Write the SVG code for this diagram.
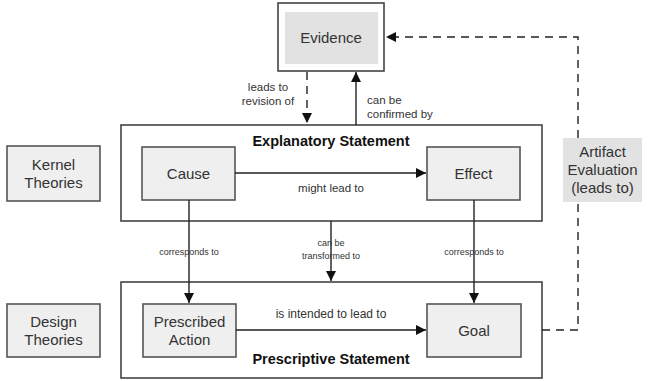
<svg xmlns="http://www.w3.org/2000/svg" width="649" height="381" viewBox="0 0 649 381">
  <defs>
    <marker id="arr" viewBox="0 0 10 10" refX="10" refY="5" markerWidth="10" markerHeight="10" markerUnits="userSpaceOnUse" orient="auto">
      <path d="M0,0 L10,5 L0,10 z" fill="#111"/>
    </marker>
    <style>
      .frame { fill: #fff; stroke: #444; stroke-width: 1.6; }
      .node { fill: #efefef; stroke: #555; stroke-width: 1.6; }
      .shade { fill: #e2e2e2; }
      .t { font-family: "Liberation Sans", Arial, sans-serif; fill: #333; text-anchor: middle; }
      .big { font-size: 15px; }
      .bold { font-size: 14.5px; font-weight: bold; fill: #111; }
      .lbl { font-size: 11.5px; }
      .sm { font-size: 9px; }
      .ln { fill: none; stroke: #222; stroke-width: 1.4; }
      .dash { stroke-dasharray: 8 6; }
    </style>
  </defs>

  <!-- Evidence -->
  <g id="evidence">
    <rect class="frame" x="278" y="3" width="106" height="68"/>
    <rect class="shade" x="285" y="12" width="93" height="52"/>
    <text class="t big" x="331" y="43">Evidence</text>
  </g>

  <!-- Explanatory statement container -->
  <g id="explanatory">
    <rect class="frame" x="121" y="125" width="421" height="96"/>
    <text class="t bold" x="331" y="146">Explanatory Statement</text>
  </g>

  <!-- Prescriptive statement container -->
  <g id="prescriptive">
    <rect class="frame" x="121" y="282" width="421" height="96"/>
    <text class="t bold" x="331" y="364">Prescriptive Statement</text>
  </g>

  <g id="kernel">
    <rect class="node" x="7" y="146" width="93" height="55"/>
    <text class="t big" x="53.5" y="170">Kernel</text>
    <text class="t big" x="53.5" y="188">Theories</text>
  </g>

  <g id="design">
    <rect class="node" x="7" y="304" width="93" height="53"/>
    <text class="t big" x="53.5" y="327">Design</text>
    <text class="t big" x="53.5" y="345">Theories</text>
  </g>

  <g id="cause">
    <rect class="node" x="142" y="147" width="93" height="53"/>
    <text class="t big" x="188.5" y="179">Cause</text>
  </g>

  <g id="effect">
    <rect class="node" x="427" y="147" width="93" height="53"/>
    <text class="t big" x="473.5" y="179">Effect</text>
  </g>

  <g id="action">
    <rect class="node" x="143" y="304" width="93" height="53"/>
    <text class="t big" x="189.5" y="327">Prescribed</text>
    <text class="t big" x="189.5" y="345">Action</text>
  </g>

  <g id="goal">
    <rect class="node" x="427" y="304" width="94" height="53"/>
    <text class="t big" x="474" y="336">Goal</text>
  </g>

  <g id="artifact">
    <rect class="shade" x="563" y="138" width="79" height="64"/>
    <text class="t big" x="602.5" y="157">Artifact</text>
    <text class="t big" x="602.5" y="175">Evaluation</text>
    <text class="t big" x="602.5" y="193">(leads to)</text>
  </g>

  <!-- Connectors -->
  <g id="connectors">
    <path class="ln dash" d="M307,72 V123" marker-end="url(#arr)"/>
    <path class="ln" d="M356,125 V72" marker-end="url(#arr)"/>
    <path class="ln" d="M235,173 H426" marker-end="url(#arr)"/>
    <path class="ln" d="M189,200 V303" marker-end="url(#arr)"/>
    <path class="ln" d="M474,200 V303" marker-end="url(#arr)"/>
    <path class="ln" d="M331,221 V281" marker-end="url(#arr)"/>
    <path class="ln" d="M236,330 H426" marker-end="url(#arr)"/>
    <path class="ln dash" d="M542,330 H578 V202"/>
    <path class="ln dash" d="M578,138 V37 H386" marker-end="url(#arr)"/>

    <text class="t lbl" x="268" y="91">leads to</text>
    <text class="t lbl" x="268" y="105">revision of</text>
    <text class="t lbl" x="367" y="104" style="text-anchor:start">can be</text>
    <text class="t lbl" x="367" y="118" style="text-anchor:start">confirmed by</text>
    <text class="t lbl" x="331" y="192">might lead to</text>
    <text class="t sm" x="189" y="255">corresponds to</text>
    <text class="t sm" x="474" y="255">corresponds to</text>
    <text class="t sm" x="331" y="246">can be</text>
    <text class="t sm" x="331" y="259">transformed to</text>
    <text class="t lbl" x="331" y="318" style="font-size:12px">is intended to lead to</text>
  </g>
</svg>
